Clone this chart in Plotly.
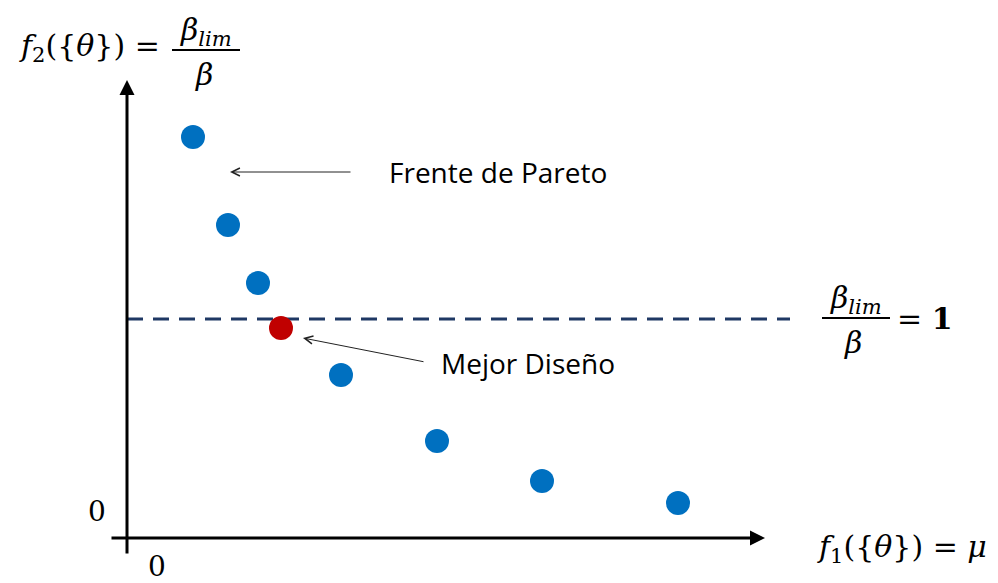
import plotly.graph_objects as go

# Pareto front candidates (objective 1 = mu, objective 2 = beta_lim / beta)
f1_values = [0.66, 1.01, 1.31, 1.54, 2.14, 3.10, 4.15, 5.51]
f2_values = [4.01, 3.13, 2.55, 2.10, 1.63, 0.97, 0.57, 0.35]
best_index = 3          # design closest to the reliability limit
limit_ratio = 2.19      # level of beta_lim / beta = 1
limit_end = 6.63

BLUE = "#0070C0"
RED = "#C00000"
NAVY = "#1F3864"
MATH_FONT = dict(family="DejaVu Serif", size=30, color="black")
TEXT_FONT = dict(family="Open Sans", size=28, color="black")
ZERO_FONT = dict(family="DejaVu Serif", size=28, color="black")

front_x = [x for i, x in enumerate(f1_values) if i != best_index]
front_y = [y for i, y in enumerate(f2_values) if i != best_index]

fig = go.Figure()
fig.add_trace(go.Scatter(
    x=front_x, y=front_y, mode="markers",
    marker=dict(size=24, color=BLUE, line=dict(width=0)),
    hoverinfo="skip", showlegend=False,
))
fig.add_trace(go.Scatter(
    x=[f1_values[best_index]], y=[f2_values[best_index]], mode="markers",
    marker=dict(size=24, color=RED, line=dict(width=0)),
    hoverinfo="skip", showlegend=False,
))

# reliability limit
fig.add_shape(type="line", x0=0, x1=limit_end, y0=limit_ratio, y1=limit_ratio,
              line=dict(color=NAVY, width=3, dash="16px,10px"), layer="below")

annotations = []

# axes drawn as arrows
annotations.append(dict(x=0, y=4.58, ax=0, ay=-0.17, xref="x", yref="y",
                        axref="x", ayref="y", text="", showarrow=True,
                        arrowhead=2, arrowsize=1, arrowwidth=3,
                        arrowcolor="black", standoff=0))
annotations.append(dict(x=6.38, y=0, ax=-0.17, ay=0, xref="x", yref="y",
                        axref="x", ayref="y", text="", showarrow=True,
                        arrowhead=2, arrowsize=1, arrowwidth=3,
                        arrowcolor="black", standoff=0))

# origin labels
annotations.append(dict(x=-0.30, y=0.27, text="0", showarrow=False,
                        font=ZERO_FONT))
annotations.append(dict(x=0.30, y=-0.28, text="0", showarrow=False,
                        font=ZERO_FONT))

# vertical axis title: f2({theta}) = beta_lim / beta
annotations.append(dict(x=0.35, y=4.91, xanchor="right",
                        text="<i>f</i><sub>2</sub>({<i>θ</i>}) =",
                        showarrow=False, font=MATH_FONT))
annotations.append(dict(x=0.79, y=5.07, text="<i>β</i><sub><i>lim</i></sub>",
                        showarrow=False, font=MATH_FONT))
annotations.append(dict(x=0.77, y=4.64, text="<i>β</i>",
                        showarrow=False, font=MATH_FONT))
fig.add_shape(type="line", x0=0.45, x1=1.13, y0=4.88, y1=4.88,
              line=dict(color="black", width=2))

# horizontal axis title
annotations.append(dict(x=6.88, y=-0.10, xanchor="left",
                        text="<i>f</i><sub>1</sub>({<i>θ</i>}) = <i>μ</i>",
                        showarrow=False, font=MATH_FONT))

# limit label: beta_lim / beta = 1
annotations.append(dict(x=7.29, y=2.39, text="<i>β</i><sub><i>lim</i></sub>",
                        showarrow=False, font=MATH_FONT))
annotations.append(dict(x=7.26, y=1.96, text="<i>β</i>",
                        showarrow=False, font=MATH_FONT))
fig.add_shape(type="line", x0=6.95, x1=7.63, y0=2.20, y1=2.20,
              line=dict(color="black", width=2))
annotations.append(dict(x=7.68, y=2.20, xanchor="left", text="= <b>1</b>",
                        showarrow=False, font=MATH_FONT))

# callouts
annotations.append(dict(x=2.60, y=3.66, xanchor="left", text="Frente de Pareto",
                        showarrow=False, font=TEXT_FONT))
annotations.append(dict(x=1.03, y=3.66, ax=2.25, ay=3.66, xref="x", yref="y",
                        axref="x", ayref="y", text="", showarrow=True,
                        arrowhead=5, arrowsize=1.6, arrowwidth=1,
                        arrowcolor="#222222", standoff=0))
annotations.append(dict(x=3.12, y=1.75, xanchor="left", text="Mejor Diseño",
                        showarrow=False, font=TEXT_FONT))
annotations.append(dict(x=1.76, y=2.00, ax=2.98, ay=1.76, xref="x", yref="y",
                        axref="x", ayref="y", text="", showarrow=True,
                        arrowhead=5, arrowsize=1.6, arrowwidth=1,
                        arrowcolor="#222222", standoff=0))

fig.update_layout(
    width=998, height=583,
    margin=dict(l=0, r=0, t=0, b=0),
    paper_bgcolor="white", plot_bgcolor="white",
    xaxis=dict(range=[-1.27, 8.71], visible=False, fixedrange=True),
    yaxis=dict(range=[-0.45, 5.38], visible=False, fixedrange=True),
    annotations=annotations,
    showlegend=False,
)

fig.write_html("out.html")
